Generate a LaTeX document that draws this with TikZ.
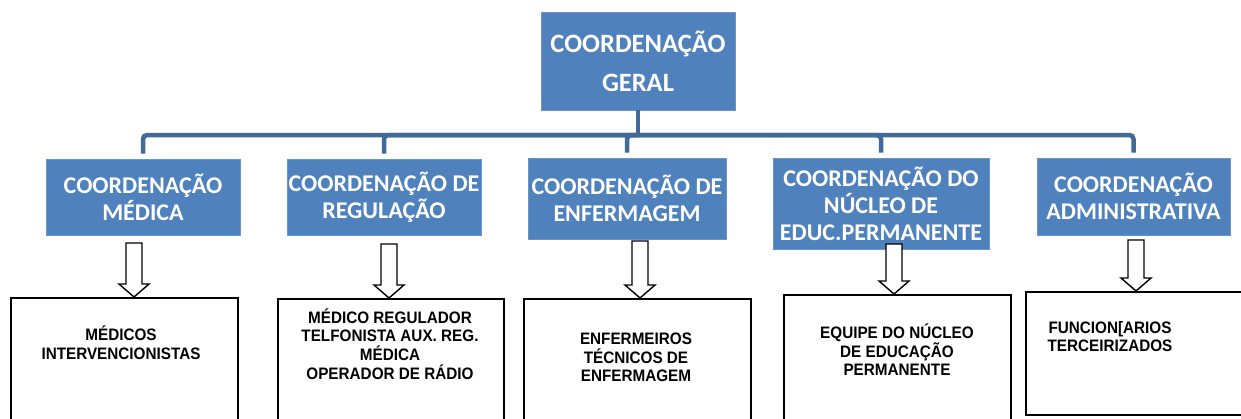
\documentclass[tikz,border=0pt]{standalone}
\usepackage{fontspec}
\setmainfont{Carlito}
\newfontfamily\lowfont{Liberation Sans}[FakeStretch=0.92]
\definecolor{boxblue}{HTML}{4F81BD}
\definecolor{boxedge}{HTML}{6A95C8}
\definecolor{connblue}{HTML}{41699A}
\tikzset{
  bluebox/.style={fill=boxblue, draw=boxedge, line width=0.6pt, inner sep=0pt,
    align=center, text=white, font=\bfseries\fontsize{24}{27}\selectfont},
  topbox/.style={bluebox, font=\bfseries\fontsize{26.5}{39}\selectfont},
  staffbox/.style={draw=black, line width=1.5pt, fill=white, inner sep=0pt, anchor=north west},
  stafftext/.style={align=center, inner sep=0pt,
    font=\lowfont\bfseries\fontsize{16.6}{18.6}\selectfont},
  conn/.style={draw=connblue, line width=4.5pt},
  hollow/.style={draw=black, line width=1.4pt, fill=white, line join=miter}
}
\newcommand{\hollowarrow}[3]{%
  \draw[hollow] ({#1-8},#2) -- ({#1+8},#2) -- ({#1+8},{#3-13}) -- ({#1+15},{#3-13})
    -- (#1,#3) -- ({#1-15},{#3-13}) -- ({#1-8},{#3-13}) -- cycle;}
\begin{document}
\begin{tikzpicture}[x=1pt,y=-1pt]
\useasboundingbox (0,0) rectangle (1241,418);
\clip (0,0) rectangle (1241,418);

% top
\node[topbox, minimum width=194pt, minimum height=98pt] (top) at (638,61) {COORDENAÇÃO\\GERAL};

% level 2
\node[bluebox, minimum width=194pt, minimum height=76pt] (med) at (143,197) {COORDENAÇÃO\\MÉDICA};
\node[bluebox, minimum width=194pt, minimum height=76pt] (reg) at (384,197) {COORDENAÇÃO DE\\REGULAÇÃO};
\node[bluebox, minimum width=198pt, minimum height=81pt] (enf) at (627,198.5) {COORDENAÇÃO DE\\ENFERMAGEM};
\node[bluebox, minimum width=216pt, minimum height=91pt] (nuc) at (881,203.5) {COORDENAÇÃO DO\\NÚCLEO DE\\EDUC.PERMANENTE};
\node[bluebox, minimum width=193pt, minimum height=77pt] (adm) at (1133.5,196.5) {COORDENAÇÃO\\ADMINISTRATIVA};

% connectors
\coordinate (jn) at (638,135);
\draw[conn] (top.south) -- (jn);
\foreach \c in {med,reg,enf,nuc,adm}{
  \draw[conn, rounded corners=4pt, shorten >=5pt] (jn) -| (\c.north);
}

% staff boxes
\node[staffbox, minimum width=227pt, minimum height=150pt] (s1) at (10,297) {};
\node[staffbox, minimum width=226pt, minimum height=150pt] (s2) at (277,298) {};
\node[staffbox, minimum width=227pt, minimum height=150pt] (s3) at (523,298) {};
\node[staffbox, minimum width=227pt, minimum height=150pt] (s4) at (783,294) {};
\node[staffbox, minimum width=216pt, minimum height=123pt] (s5) at (1025,291) {};

% hollow arrows
\hollowarrow{134}{243}{297}
\hollowarrow{389}{244}{298}
\hollowarrow{640}{241}{298}
\hollowarrow{894}{244}{294}
\hollowarrow{1136}{240}{291}

% staff texts
\node[stafftext] (t1) at (121,343) {MÉDICOS\\INTERVENCIONISTAS};
\node[stafftext] (t2) at (390,344) {MÉDICO REGULADOR\\TELFONISTA AUX. REG.\\MÉDICA\\OPERADOR DE RÁDIO};
\node[stafftext] (t3) at (636,357.5) {ENFERMEIROS\\TÉCNICOS DE\\ENFERMAGEM};
\node[stafftext] (t4) at (897,350) {EQUIPE DO NÚCLEO\\DE EDUCAÇÃO\\PERMANENTE};
\node[stafftext] (t5) at (1110,336.5) {FUNCION[ARIOS\\TERCEIRIZADOS};
\end{tikzpicture}
\end{document}
